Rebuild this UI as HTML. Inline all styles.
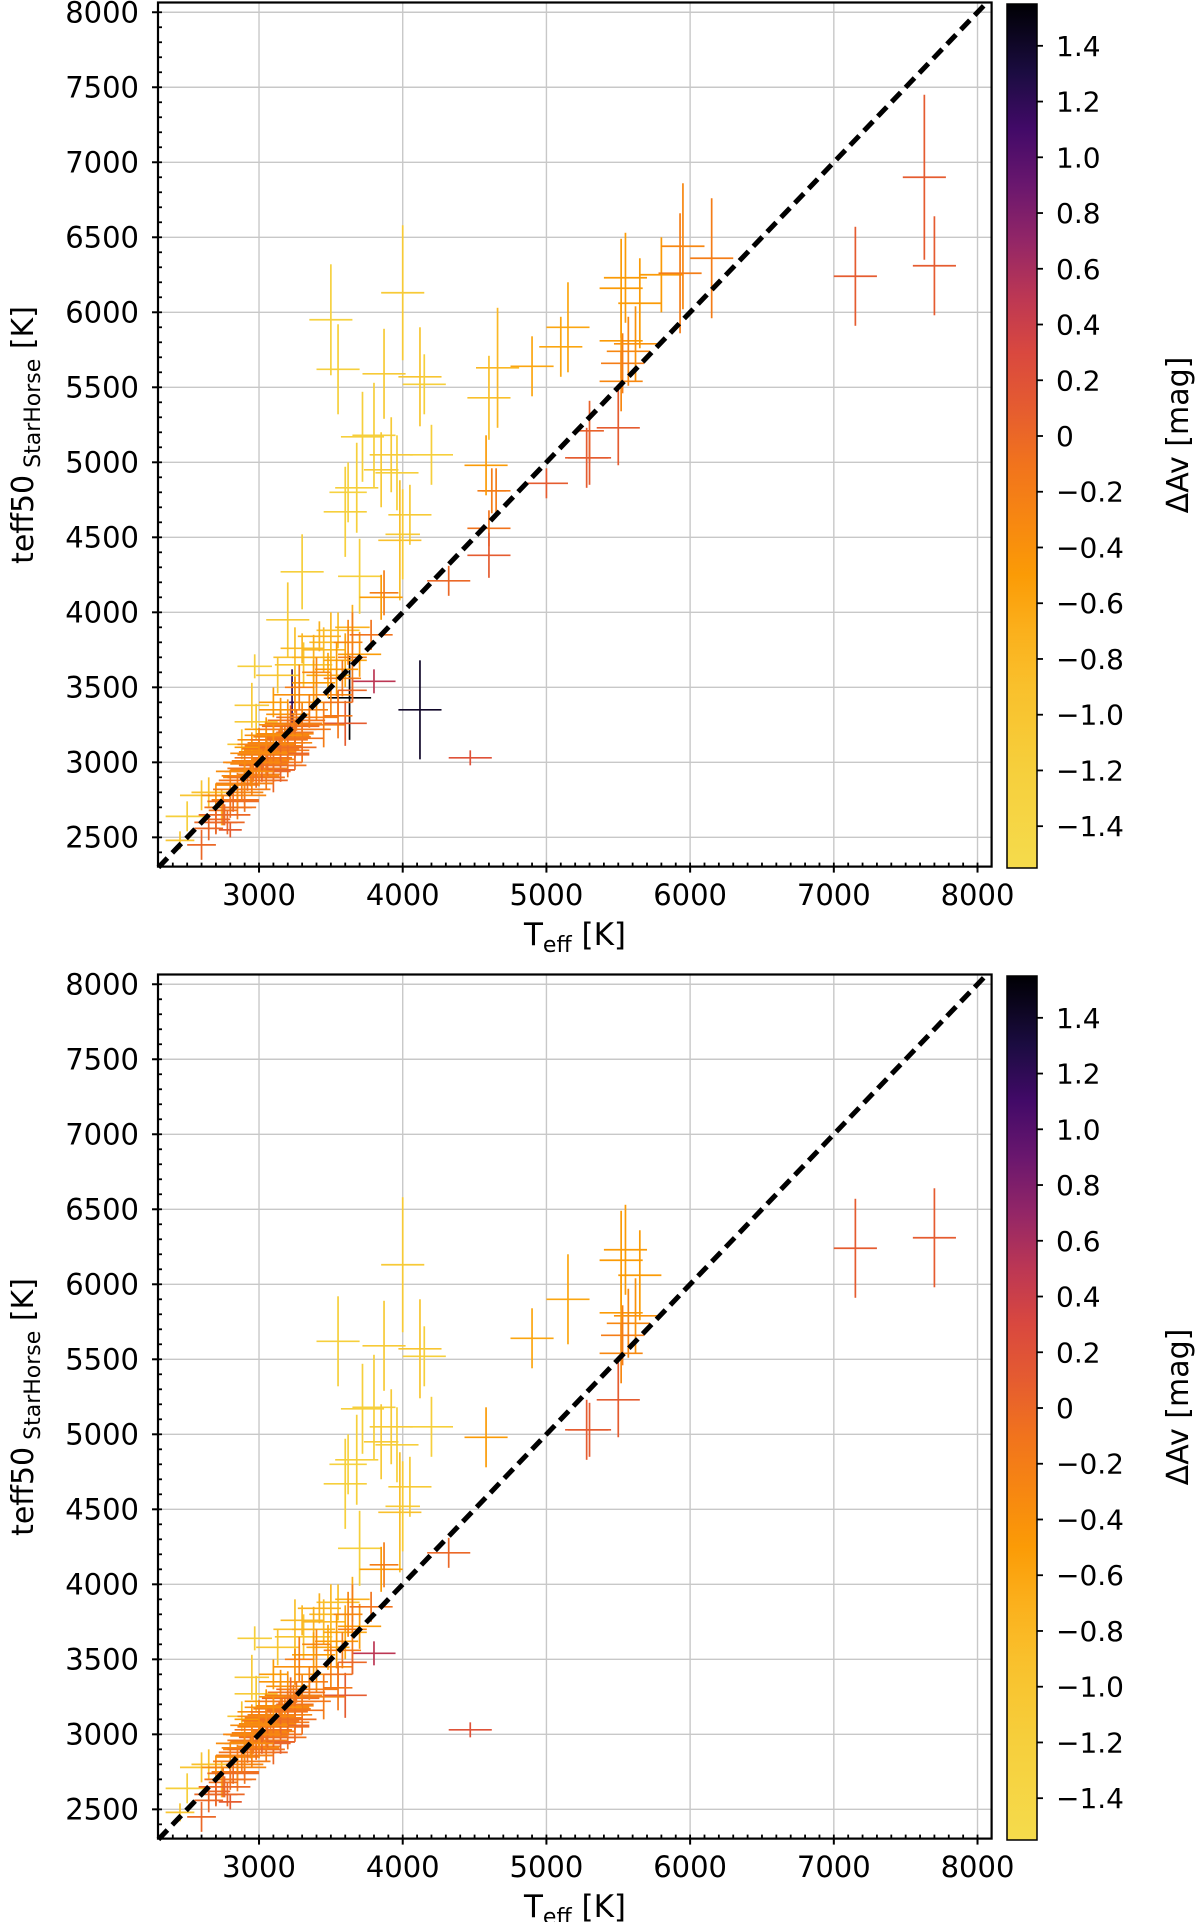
<!DOCTYPE html>
<html><head><meta charset="utf-8"><style>
html,body{margin:0;padding:0;background:#fff}
svg{display:block;font-family:"DejaVu Sans","Liberation Sans",sans-serif}
</style></head><body>
<svg id="chart" width="1200" height="1922" viewBox="0 0 1200 1922" xmlns="http://www.w3.org/2000/svg">
<defs>
<linearGradient id="cbgrad" x1="0" y1="0" x2="0" y2="1">
<stop offset="0" stop-color="#000004"/><stop offset="0.08" stop-color="#1b0c41"/>
<stop offset="0.145" stop-color="#420a68"/><stop offset="0.21" stop-color="#6a176e"/>
<stop offset="0.274" stop-color="#932667"/><stop offset="0.339" stop-color="#bc3754"/>
<stop offset="0.403" stop-color="#d9483f"/><stop offset="0.468" stop-color="#e55c30"/>
<stop offset="0.532" stop-color="#f1731d"/><stop offset="0.597" stop-color="#f78711"/>
<stop offset="0.661" stop-color="#fb9b06"/><stop offset="0.726" stop-color="#fbb01c"/>
<stop offset="0.79" stop-color="#f9c02c"/><stop offset="0.887" stop-color="#f6cf3c"/>
<stop offset="1" stop-color="#f5db4c"/>
</linearGradient>
</defs>
</svg>
<script>
// data: Teff, teff50 StarHorse, errors, delta Av
const teff = [7630,7700,7150,4120,3630,3230,4470,3800,3600,
3500,3550,3870,4000,4120,4150,3800,3720,3920,4200,3680,3620,3850,3960,4050,3980,4000,3600,3700,3300,3200,3850,3870,
4620,4650,4600,4600,4320,5000,5300,5500,5300,4600,4660,4900,5100,5150,5520,5570,5530,5520,5620,5650,5520,5550,5800,5950,5930,6150,4580,5280,
2500,2450,2600,2650,2740,2970,2950,3130,2980,2880,3250,3310,3450,3500,3550,3650,3420,3380,3300,3600,3700,3540,3480,3380,3250,3400,3500,3580,3650,3780,3620,3200,3300,3150,3200,3100,3250,3150,3050,3100,3000,3050,2950,3000,2900,2950,2850,2900,3100,3150,3200,3250,3050,2800,2850,2750,2780,2700,2650,2600,2800,3000,2950,3050,3150,3100,3350,3400,3280,3450,3550,3650,3550,3300,3200,3250,3220,3000,2900,2800,2700,2900,3050,3100,3150,
2850,2880,2900,2920,2940,2960,2980,3000,3010,3030,3050,3060,3080,3100,3120,3140,3160,3180,3200,3220,3240,3260,2980,3020,3060,3100,3150,3200,3250,3300,2900,2950,3000,3050,3100,2800,2820,2760,2700,3350];
const teffSH = [6900,6310,6240,3350,3430,3400,3030,3540,3260,
5950,5620,5590,6130,5570,5520,5180,5170,5050,5050,4830,4800,4950,4930,4650,4480,4520,4670,4240,4270,3950,4100,4130,
4810,4810,4560,4380,4210,4860,5030,5230,5210,5430,5630,5640,5770,5900,5810,5740,5660,5540,5790,6060,6160,6230,6250,6440,6260,6360,4980,5030,
2640,2480,2780,2800,2700,3640,3380,3580,3270,3120,3700,3650,3750,3800,3880,3900,3840,3700,3760,3680,3720,3620,3580,3530,3450,3400,3450,3560,3700,3850,3800,3320,3280,3250,3180,3150,3130,3100,3080,3020,3000,2960,2950,2920,2900,2860,2850,2800,2950,3050,3080,3200,3120,2750,2700,2680,2600,2620,2560,2450,2550,3050,3100,3220,3350,3400,3350,3600,3500,3250,3400,3480,3310,3100,2980,3050,3300,3150,3000,2850,2780,2750,2900,2880,2950,
2780,2820,2860,2880,2910,2940,2960,2990,3010,3030,3050,3070,3090,3110,3130,3150,3170,3190,3220,3240,3260,3280,2900,2940,2980,3000,3060,3100,3160,3220,2940,3000,3060,3120,3180,2700,2740,2650,2600,3300];
const errT = [150,150,150,150,150,20,150,150,150,
150,150,150,150,150,150,150,150,150,150,150,130,120,150,150,150,120,150,150,150,150,150,100,
100,100,150,150,150,150,150,150,100,150,150,150,150,150,150,150,150,150,150,150,150,150,150,150,150,150,150,150,
150,100,150,120,100,120,120,150,150,100,150,200,150,150,150,120,150,150,150,150,150,150,150,150,150,150,150,130,100,150,100,150,150,150,150,150,120,150,150,150,150,150,150,150,150,150,150,130,150,150,150,130,130,130,100,100,120,100,100,100,80,150,120,150,150,100,130,100,100,150,100,100,100,100,130,100,100,150,130,100,100,100,100,100,100,
200,200,200,200,200,200,200,200,200,200,200,200,200,200,200,200,200,200,200,200,200,200,200,200,200,200,200,200,200,200,200,200,200,200,200,180,180,180,150,200];
const errSH = [550,330,330,330,280,220,50,80,150,
370,300,300,450,330,200,350,300,250,200,300,200,250,250,200,400,300,300,250,250,250,150,150,
150,150,120,150,100,100,180,250,200,280,400,200,200,300,250,230,200,200,250,300,330,300,250,420,400,400,200,200,
100,60,100,100,120,80,150,120,120,100,200,150,150,200,120,150,100,150,100,180,150,180,150,150,120,120,150,120,300,100,150,100,120,100,100,100,100,100,100,100,100,80,100,80,100,80,80,80,80,80,80,80,100,80,80,100,80,100,80,100,50,100,100,80,80,100,100,100,150,150,80,80,150,100,80,100,80,80,100,100,80,80,80,80,80,80,
70,70,70,70,70,70,70,70,70,70,70,70,70,70,70,70,70,70,70,70,70,70,70,70,70,70,70,70,70,70,70,70,70,70,70,70,70,70,70,70];
const dAv = [0.1,0.1,0.1,1.4,1.55,1.2,0.2,0.5,0.1,
-1.3,-1.2,-1.1,-1.1,-1.0,-1.2,-1.2,-1.2,-1.1,-1.2,-1.2,-1.3,-1.1,-1.2,-1.1,-0.9,-1.1,-1.2,-1.2,-1.2,-1.1,-0.5,-0.2,
-0.2,-0.2,-0.1,0.1,0.0,0.1,0.1,0.1,0.05,-0.9,-0.8,-0.6,-0.6,-0.6,-0.5,-0.3,-0.2,-0.3,-0.4,-0.5,-0.5,-0.5,-0.5,-0.3,-0.2,-0.2,-0.5,0.1,
-1.2,-1.0,-1.0,-0.9,-0.8,-1.2,-1.1,-1.0,-1.1,-1.0,-0.9,-1.0,-0.8,-0.8,-0.9,-0.7,-0.7,-0.7,-0.8,-0.6,-0.5,-0.5,-0.6,-0.5,-0.4,-0.4,-0.3,-0.2,-0.2,-0.1,-0.3,-0.4,-0.3,-0.4,-0.3,-0.35,-0.3,-0.3,-0.35,-0.3,-0.3,-0.3,-0.3,-0.25,-0.3,-0.25,-0.25,-0.3,-0.2,-0.2,-0.15,-0.1,-0.2,-0.2,-0.2,-0.1,0.0,0.0,0.0,0.0,0.1,-0.4,-0.5,-0.5,-0.45,-0.5,-0.25,-0.3,-0.2,-0.2,-0.1,0.0,-0.15,-0.1,-0.1,-0.05,0.0,-0.35,-0.4,-0.35,-0.4,-0.1,-0.15,0.0,0.05,
-0.3,-0.2,-0.25,-0.1,-0.3,-0.2,-0.15,-0.3,-0.25,-0.1,-0.2,-0.3,-0.15,-0.2,-0.25,-0.1,-0.2,-0.3,-0.15,-0.05,-0.2,-0.1,-0.1,0.0,-0.05,-0.1,0.0,-0.05,-0.1,-0.15,-0.35,-0.3,-0.35,-0.3,-0.4,-0.1,-0.05,0.0,0.0,-0.2];
// which points appear in the lower panel
const inBottom = [0,1,1,0,0,0,1,1,1,
0,1,1,1,1,1,1,1,1,1,1,1,1,1,1,1,1,1,1,0,0,1,1,
0,0,0,0,1,0,1,1,0,0,0,1,0,1,1,1,1,1,1,1,1,1,0,0,0,0,1,1,
1,1,1,1,1,1,1,1,1,1,1,1,1,1,1,1,1,1,1,1,1,1,1,1,1,1,1,1,1,1,1,1,1,1,1,1,1,1,1,1,1,1,1,1,1,1,1,1,1,1,1,1,1,1,1,1,1,1,1,1,1,1,1,1,1,1,1,1,1,1,1,1,1,1,1,1,1,1,1,1,1,1,1,1,1,
1,1,1,1,1,1,1,1,1,1,1,1,1,1,1,1,1,1,1,1,1,1,1,1,1,1,1,1,1,1,1,1,1,1,1,1,1,1,1,1];
const xTicks = [3000,4000,5000,6000,7000,8000];
const yTicks = [2500,3000,3500,4000,4500,5000,5500,6000,6500,7000,7500,8000];
const cbTicks = [1.4,1.2,1.0,0.8,0.6,0.4,0.2,0,-0.2,-0.4,-0.6,-0.8,-1.0,-1.2,-1.4];

const NS = "http://www.w3.org/2000/svg";
const svg = document.getElementById('chart');
const AX = {l:158, r:991.6, t:2.5, b:866.6};
const xMin=2297, xMax=8098, yMin=2305, yMax=8065;
function xs(v){return AX.l + (v-xMin)/(xMax-xMin)*(AX.r-AX.l);}
function ys(v,off){return off + AX.b - (v-yMin)/(yMax-yMin)*(AX.b-AX.t);}
const cStops=[[1.55,[0,0,4]],[1.3,[27,12,65]],[1.1,[66,10,104]],[0.9,[106,23,110]],[0.7,[147,38,103]],[0.5,[188,55,84]],[0.3,[217,72,63]],[0.1,[229,92,48]],[-0.1,[241,115,29]],[-0.3,[247,135,17]],[-0.5,[251,155,6]],[-0.7,[251,176,28]],[-0.9,[249,192,44]],[-1.2,[246,207,60]],[-1.55,[245,219,76]]];
function cmap(v){
  v=Math.max(-1.55,Math.min(1.55,v));
  for(let i=0;i<cStops.length-1;i++){
    const a=cStops[i],b=cStops[i+1];
    if(v<=a[0]&&v>=b[0]){const t=(a[0]-v)/(a[0]-b[0]);
      const c=a[1].map((x,k)=>Math.round(x+(b[1][k]-x)*t));return `rgb(${c[0]},${c[1]},${c[2]})`;}
  }
  return '#000';
}
function mk(tag,attrs,parent){const e=document.createElementNS(NS,tag);for(const k in attrs)e.setAttribute(k,attrs[k]);(parent||svg).appendChild(e);return e;}
function cbY(v,off){return off + 4 + (1.55-v)/3.1*864;}

function panel(off,idx,bottom){
  const g=mk('g',{});
  
  
  xTicks.forEach(t=>{const l=mk('line',{x1:xs(t),x2:xs(t),y1:off+AX.t,y2:off+AX.b,stroke:'#c8c8c8','stroke-width':1.4},g);
    
    });
  yTicks.forEach(t=>{const l=mk('line',{x1:AX.l,x2:AX.r,y1:ys(t,off),y2:ys(t,off),stroke:'#c8c8c8','stroke-width':1.4},g);
    
    });
  for(let i=0;i<teff.length;i++){
    if(bottom && !inBottom[i]) continue;
    const c=cmap(dAv[i]);const x=xs(teff[i]),y=ys(teffSH[i],off);
    const cg=mk('g',{stroke:c,'stroke-width':1.7},g);
    
    
    mk('line',{x1:xs(teff[i]-errT[i]),x2:xs(teff[i]+errT[i]),y1:y,y2:y},cg);
    mk('line',{x1:x,x2:x,y1:ys(teffSH[i]-errSH[i],off),y2:ys(teffSH[i]+errSH[i],off)},cg);
  }
  const d=mk('line',{x1:xs(2300),y1:ys(2300,off),x2:xs(8050),y2:ys(8050,off),stroke:'#000','stroke-width':5,'stroke-dasharray':'13 7'},g);
  
  
  const f=mk('rect',{x:AX.l,y:off+AX.t,width:AX.r-AX.l,height:AX.b-AX.t,fill:'none',stroke:'#000','stroke-width':2.2},g);
  
  
  for(let v=2400;v<=8000;v+=100){
    mk('line',{x1:xs(v),x2:xs(v),y1:off+AX.b,y2:off+AX.b-4,stroke:'#000','stroke-width':1.8},g);
    mk('line',{x1:AX.l,x2:AX.l+4,y1:ys(v,off),y2:ys(v,off),stroke:'#000','stroke-width':1.8},g);
  }
  xTicks.forEach(t=>{mk('line',{x1:xs(t),x2:xs(t),y1:off+AX.b,y2:off+AX.b+6,stroke:'#000','stroke-width':2},g);
    const tx=mk('text',{x:xs(t),y:off+905,'font-size':29,'text-anchor':'middle',fill:'#000'},g);tx.textContent=t;
    
    });
  yTicks.forEach(t=>{mk('line',{x1:AX.l-6,x2:AX.l,y1:ys(t,off),y2:ys(t,off),stroke:'#000','stroke-width':2},g);
    const tx=mk('text',{x:139,y:ys(t,off)+10,'font-size':29,'text-anchor':'end',fill:'#000'},g);tx.textContent=t;
    
    });
  const xl=mk('text',{x:575,y:off+945,'font-size':31,'text-anchor':'middle',fill:'#000'},g);
  xl.innerHTML='T<tspan font-size="22" dy="7">eff</tspan><tspan dy="-7"> [K]</tspan>';
  
  
  const yl=mk('text',{x:0,y:0,'font-size':30,'text-anchor':'middle',fill:'#000',transform:`translate(33,${off+435}) rotate(-90)`},g);
  yl.innerHTML='teff50<tspan font-size="22" dy="7"> StarHorse</tspan><tspan dy="-7"> [K]</tspan>';
  
  
  const cb=mk('rect',{x:1007,y:off+4,width:30,height:864,fill:'url(#cbgrad)',stroke:'#000','stroke-width':1.5},g);
  
  
  cbTicks.forEach(t=>{const y=cbY(t,off);
    mk('line',{x1:1037,x2:1043,y1:y,y2:y,stroke:'#000','stroke-width':1.8},g);
    const tx=mk('text',{x:1056,y:y+10,'font-size':28,fill:'#000'},g);
    tx.textContent = t<0 ? '\u2212'+Math.abs(t).toFixed(1) : (t===0?'0':t.toFixed(1));
    
    });
  const cl=mk('text',{x:0,y:0,'font-size':30,'text-anchor':'middle',fill:'#000',transform:`translate(1188,${off+435}) rotate(-90)`},g);
  cl.textContent='\u0394Av [mag]';
  
  
}
panel(0,0,false);
panel(972,1,true);
</script>
</body></html>
